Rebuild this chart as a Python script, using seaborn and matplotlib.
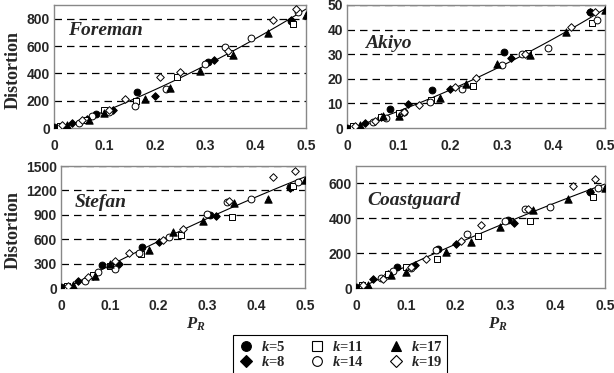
import numpy as np
import pandas as pd
import matplotlib
matplotlib.use("Agg")
import matplotlib.pyplot as plt
import seaborn as sns
from matplotlib.lines import Line2D

sns.set_style("white")
plt.rcParams['font.family'] = ['Liberation Sans', 'DejaVu Sans']
plt.rcParams['mathtext.fontset'] = 'custom'
plt.rcParams['mathtext.it'] = 'Liberation Serif:bold:italic'
plt.rcParams['mathtext.rm'] = 'Liberation Serif:bold'
plt.rcParams['mathtext.bf'] = 'Liberation Serif:bold'

# ---- data ----
k_values = [5, 8, 11, 14, 17, 19]
x5 = [0, 0.083, 0.165, 0.305, 0.47]
x8 = [0.035, 0.065, 0.118, 0.2, 0.318, 0.47]
x11 = [0.012, 0.065, 0.1, 0.163, 0.245, 0.35, 0.475]
x14 = [0.05, 0.075, 0.11, 0.16, 0.222, 0.3, 0.34, 0.39, 0.485]
x17 = [0.025, 0.07, 0.1, 0.18, 0.23, 0.29, 0.355, 0.425, 0.5]
x19 = [0.015, 0.055, 0.11, 0.14, 0.21, 0.25, 0.345, 0.435, 0.48]

foreman_5 = [5, 100, 265, 480, 780]
foreman_8 = [35, 65, 130, 235, 495, 790]
foreman_11 = [15, 60, 130, 195, 370, 550, 760]
foreman_14 = [35, 85, 120, 160, 285, 465, 590, 655, 850]
foreman_17 = [20, 60, 110, 215, 290, 420, 535, 695, 830]
foreman_19 = [20, 55, 130, 210, 370, 410, 560, 790, 870]

akiyo_5 = [0, 7.8, 15.5, 31, 47]
akiyo_8 = [2, 4.5, 9.8, 16, 28.5, 47]
akiyo_11 = [0.8, 4.5, 6, 11.5, 17, 30.5, 42.5]
akiyo_14 = [2.5, 4, 6.5, 10.5, 16, 25.5, 30, 32.5, 44]
akiyo_17 = [1.2, 5, 5, 12, 18, 26, 29.5, 39, 48]
akiyo_19 = [1, 3, 6.5, 9.5, 16.5, 20.5, 30, 41, 47]

stefan_5 = [10, 280, 510, 900, 1240]
stefan_8 = [90, 150, 300, 570, 880, 1230]
stefan_11 = [30, 160, 265, 420, 650, 870, 1250]
stefan_14 = [80, 200, 230, 430, 630, 910, 1060, 1090, 1300]
stefan_17 = [40, 150, 300, 470, 690, 820, 1040, 1100, 1330]
stefan_19 = [30, 130, 330, 430, 590, 720, 1070, 1370, 1440]

coast_5 = [5, 120, 225, 390, 550]
coast_8 = [50, 80, 130, 250, 375, 550]
coast_11 = [20, 80, 120, 165, 300, 385, 525]
coast_14 = [55, 95, 115, 220, 310, 385, 455, 465, 575]
coast_17 = [20, 75, 90, 205, 265, 350, 450, 510, 575]
coast_19 = [20, 50, 120, 165, 270, 360, 455, 585, 625]

videos = ["Foreman", "Akiyo", "Stefan", "Coastguard"]
y_limits = [(0, 900), (0, 50), (0, 1500), (0, 700)]
y_tick_steps = [200, 10, 300, 200]
x_ticks = [0, 0.1, 0.2, 0.3, 0.4, 0.5]
x_tick_labels = ["0", "0.1", "0.2", "0.3", "0.4", "0.5"]

xs = {5: x5, 8: x8, 11: x11, 14: x14, 17: x17, 19: x19}
ys = {
    "Foreman": [foreman_5, foreman_8, foreman_11, foreman_14, foreman_17, foreman_19],
    "Akiyo": [akiyo_5, akiyo_8, akiyo_11, akiyo_14, akiyo_17, akiyo_19],
    "Stefan": [stefan_5, stefan_8, stefan_11, stefan_14, stefan_17, stefan_19],
    "Coastguard": [coast_5, coast_8, coast_11, coast_14, coast_17, coast_19],
}

rows = []
for v in videos:
    for k, yy in zip(k_values, ys[v]):
        for xv, yv in zip(xs[k], yy):
            rows.append(dict(video=v, k=k, x=xv, y=yv))
df = pd.DataFrame(rows)

# ---- styles ----
styles = {
    5: dict(marker='o', fc='black', s=24),
    8: dict(marker='D', fc='black', s=15),
    11: dict(marker='s', fc='white', s=22),
    14: dict(marker='o', fc='white', s=24),
    17: dict(marker='^', fc='black', s=28),
    19: dict(marker='D', fc='white', s=15),
}

fig = plt.figure(figsize=(6.14, 3.73), dpi=100)
rects = [
    [54/614, 1-128/373, 252/614, 123/373],
    [347/614, 1-128/373, 258/614, 123/373],
    [61/614, 1-288/373, 244/614, 122/373],
    [356/614, 1-288/373, 249/614, 122/373],
]
title_pos = [(0.055, 0.79), (0.07, 0.69), (0.057, 0.70), (0.044, 0.72)]

for v, rect, ylim, step, tp in zip(videos, rects, y_limits, y_tick_steps, title_pos):
    ax = fig.add_axes(rect)
    sub = df[df.video == v]
    yt = np.arange(ylim[0], ylim[1] + 1e-9, step)
    for yv in yt[1:]:
        ax.axhline(yv, color='black', lw=0.9, ls=(0, (6, 4)), zorder=0)
    sns.regplot(data=sub, x='x', y='y', order=2, scatter=False, ci=None,
                line_kws=dict(color='black', lw=0.8), ax=ax)
    for k in k_values:
        st = styles[k]
        d = sub[sub.k == k]
        sns.scatterplot(data=d, x='x', y='y', marker=st['marker'], s=st['s'],
                        color=st['fc'], edgecolor='black', linewidth=0.7,
                        ax=ax, zorder=3, legend=False)
    ax.set_xlim(0, 0.5)
    ax.set_ylim(*ylim)
    ax.set_xticks(x_ticks)
    ax.set_xticklabels(x_tick_labels)
    ax.set_yticks(yt)
    ax.set_xlabel('')
    ax.set_ylabel('')
    ax.tick_params(axis='x', direction='in', length=3, width=0.8, labelsize=10, pad=8, color='#555555')
    ax.tick_params(axis='y', direction='in', length=0, labelsize=10, pad=3)
    for lab in ax.get_xticklabels() + ax.get_yticklabels():
        lab.set_fontweight('bold')
    for sp in ax.spines.values():
        sp.set_color('#888888')
        sp.set_linewidth(1.0)
    ax.text(tp[0], tp[1], v, transform=ax.transAxes, fontsize=14, va='center',
            fontfamily='Liberation Serif', fontweight='bold', fontstyle='italic')

fig.text(13/614, 1-70/373, 'Distortion', rotation=90, ha='center', va='center',
         fontsize=13, fontfamily='Liberation Serif', fontweight='bold')
fig.text(13/614, 1-230/373, 'Distortion', rotation=90, ha='center', va='center',
         fontsize=13, fontfamily='Liberation Serif', fontweight='bold')
fig.text(196/614, 1-324/373, r'$P_R$', ha='center', va='center', fontsize=12)
fig.text(498/614, 1-324/373, r'$P_R$', ha='center', va='center', fontsize=12)

handles = []
for k in k_values:
    st = styles[k]
    ms = {'o': 7, 'D': 6, 's': 7, '^': 7.5}[st['marker']]
    handles.append(Line2D([], [], ls='none', marker=st['marker'], markersize=ms,
                          markerfacecolor=st['fc'], markeredgecolor='black',
                          markeredgewidth=0.8, label=r'$k$=%d' % k))
leg = fig.legend(handles=handles, ncol=3, loc='center', bbox_to_anchor=(340/614, 1-354.5/373),
                 frameon=True, fancybox=False, edgecolor='black', framealpha=1,
                 prop=dict(family='Liberation Serif', weight='bold', size=10.5),
                 handletextpad=0.4, columnspacing=1.6, labelspacing=0.1,
                 borderpad=0.3, handlelength=1.2)
leg.get_frame().set_linewidth(0.8)

fig.savefig('out.png', dpi=100)
